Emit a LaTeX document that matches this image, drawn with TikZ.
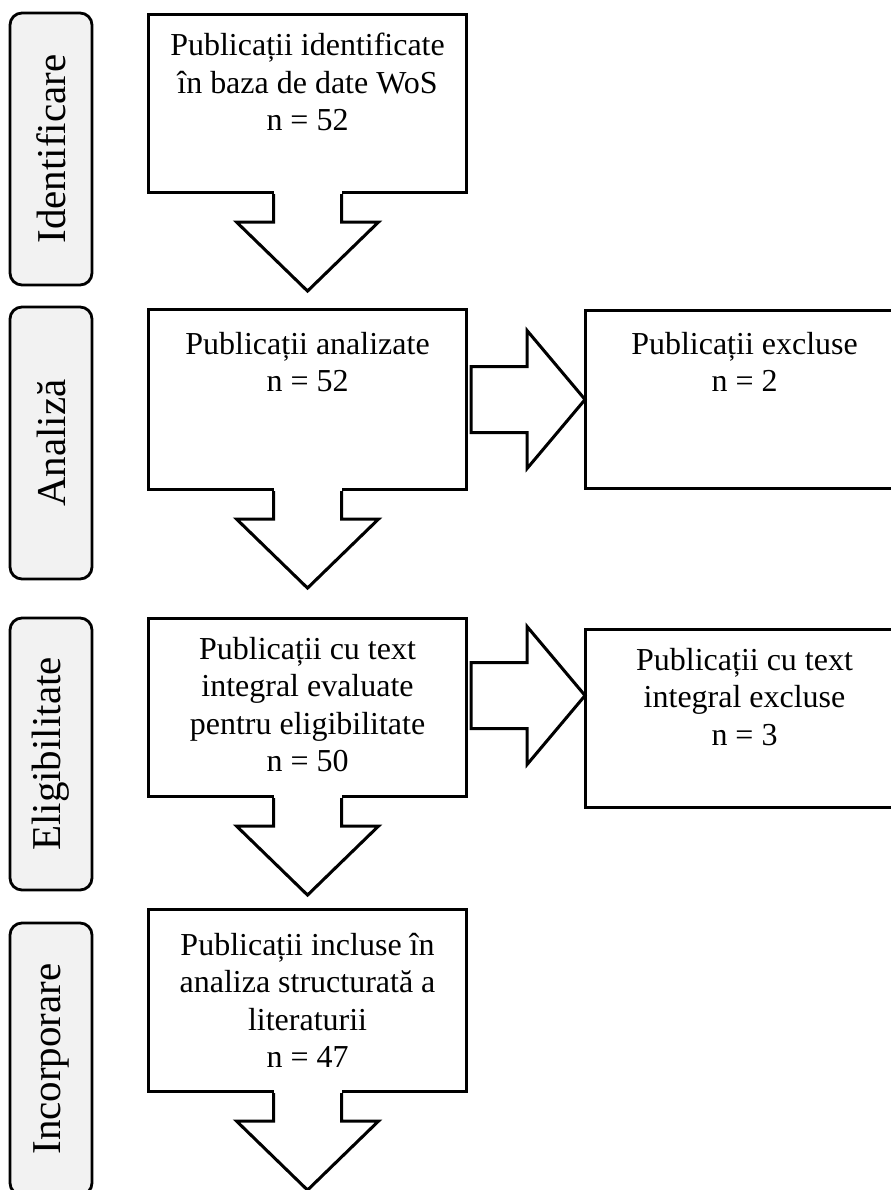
\documentclass[tikz,border=0pt]{standalone}
\usepackage{fontspec}
\setmainfont{Liberation Serif}
\usetikzlibrary{positioning}

\tikzset{
  stage/.style={draw, line width=2.4pt, rounded corners=0.36cm, fill=black!5,
    rotate=90, minimum width=8.16cm, minimum height=2.46cm,
    font=\fontsize{35}{40}\selectfont},
  block/.style={draw, line width=2.6pt, minimum width=9.54cm, anchor=north west},
  boxtext/.style={inner sep=0pt, align=center, font=\fontsize{27.3}{32}\selectfont},
  downarrow/.pic={
    \fill[white] (-34,-5) rectangle (34,30);
    \draw[line width=2.6pt, fill=white] (-34,0) -- (-34,28) -- (-71,28) -- (0,97)
      -- (71,28) -- (34,28) -- (34,0);
  },
  rightarrow/.pic={
    \draw[line width=2.6pt, fill=white] (3,-33) -- (59,-33) -- (59,-69) -- (117,0)
      -- (59,69) -- (59,33) -- (3,33) -- cycle;
  }
}

\begin{document}
\begin{tikzpicture}[x=0.03cm, y=-0.03cm]
  \clip (0,0) rectangle (891,1190);

  % stages
  \node[stage] (idf) at (51,149) {Identificare};
  \node[stage] (ana) at (51,443) {Analiză};
  \node[stage] (elig) at (51,754) {Eligibilitate};
  \node[stage] (inc) at (51,1059) {Incorporare};

  % main column
  \node[block, minimum height=5.34cm] (pub1) at (147,13) {};
  \node[block, minimum height=5.4cm] (pub2) at (147,308) {};
  \node[block, minimum height=5.34cm] (pub3) at (147,617) {};
  \node[block, minimum height=5.46cm] (pub4) at (147,908) {};

  % excluded
  \node[block, minimum height=5.34cm] (exc1) at (584,309) {};
  \node[block, minimum height=5.34cm] (exc2) at (584,628) {};

  \node[boxtext, below=0.6cm of pub1.north] (t1) {Publicații identificate\\în baza de date WoS\\n = 52};
  \node[boxtext, below=0.72cm of pub2.north] (t2) {Publicații analizate\\n = 52};
  \node[boxtext, below=0.6cm of pub3.north] (t3) {Publicații cu text\\integral evaluate\\pentru eligibilitate\\n = 50};
  \node[boxtext, below=0.75cm of pub4.north] (t4) {Publicații incluse în\\analiza structurată a\\literaturii\\n = 47};
  \node[boxtext, below=0.69cm of exc1.north] (t5) {Publicații excluse\\n = 2};
  \node[boxtext, below=0.6cm of exc2.north] (t6) {Publicații cu text\\integral excluse\\n = 3};

  % arrows
  \pic at (pub1.south) {downarrow};
  \pic at (pub2.south) {downarrow};
  \pic at (pub3.south) {downarrow};
  \pic at (pub4.south) {downarrow};
  \pic at (pub2.east) {rightarrow};
  \pic at ([yshift=0.36cm]pub3.east) {rightarrow};
\end{tikzpicture}
\end{document}
